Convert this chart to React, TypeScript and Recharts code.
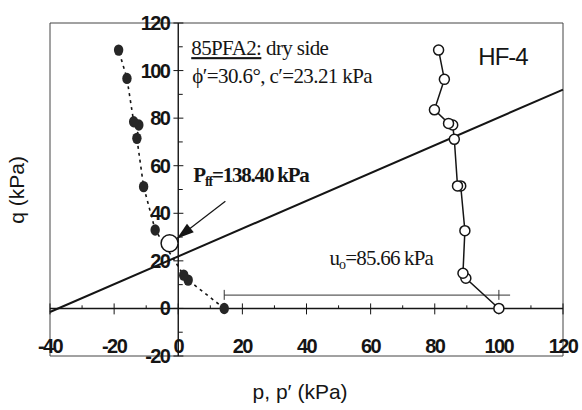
import React from 'react';
import { ScatterChart, Scatter, XAxis, YAxis, ReferenceLine, ReferenceDot } from 'recharts';

// effective stress path p' (filled dots, dotted line), read bottom to top
const effectivePath = [
  { p: 14.34, q: 0 },
  { p: 3.1, q: 11.9 },
  { p: 1.7, q: 14.0 },
  { p: -7.2, q: 33.0 },
  { p: -10.8, q: 51.2 },
  { p: -12.9, q: 71.5 },
  { p: -12.3, q: 77.1 },
  { p: -13.9, q: 78.5 },
  { p: -16.0, q: 96.7 },
  { p: -18.6, q: 108.6 },
];

// total stress path p (open circles, solid line)
const totalPath = [
  { p: 100.0, q: 0 },
  { p: 89.7, q: 12.7 },
  { p: 88.8, q: 14.8 },
  { p: 89.4, q: 32.7 },
  { p: 88.1, q: 51.5 },
  { p: 87.1, q: 51.5 },
  { p: 86.1, q: 71.1 },
  { p: 85.6, q: 77.1 },
  { p: 84.3, q: 77.8 },
  { p: 79.9, q: 83.5 },
  { p: 83.0, q: 96.3 },
  { p: 81.2, q: 108.6 },
];

const failureLine = [
  { p: -40, q: -1.5 },
  { p: 120, q: 92 },
];

const pffPoint = [{ p: -2.7, q: 27.4 }];
const arrowPath = [
  { p: 14.7, q: 45.1, tip: false },
  { p: -0.4, q: 29.4, tip: true },
];

const u0Level = 5.6;
const u0Start = 14.34;
const u0End = 103.5;
const u0Marks = [14.34, 100];

const xMajor = [-40, -20, 0, 20, 40, 60, 80, 100, 120];
const xMinor = [-30, -10, 10, 30, 50, 70, 90, 110];
const yMajor = [-20, 0, 20, 40, 60, 80, 100, 120];
const yMinor = [-10, 10, 30, 50, 70, 90, 110];

const INK = '#151515';
const tickFont = { fontFamily: '"Liberation Sans", Arial, sans-serif', fontWeight: 700, fontSize: 20, letterSpacing: -1.6, fill: INK };
const serif = '"Liberation Serif", "Times New Roman", serif';
const sans = '"Liberation Sans", Arial, sans-serif';
const ARROW_ANGLE = (142 * Math.PI) / 180;

const FilledDot = (props: any) => (
  <ellipse cx={props.cx} cy={props.cy} rx={4.7} ry={5.7} fill="#262626" />
);

const OpenDot = (props: any) => (
  <circle cx={props.cx} cy={props.cy} r={5} fill="#fff" stroke={INK} strokeWidth={1.5} />
);

const BigOpen = (props: any) => (
  <circle cx={props.cx} cy={props.cy} r={8.5} fill="#fff" stroke={INK} strokeWidth={1.5} />
);

const NoDot = () => <g />;

const ArrowTip = (props: any) => {
  if (!props.payload || !props.payload.tip) return <g />;
  const { cx, cy } = props;
  const L = 17;
  const W = 5.5;
  const c = Math.cos(ARROW_ANGLE);
  const s = Math.sin(ARROW_ANGLE);
  const bx = cx - L * c;
  const by = cy - L * s;
  const pts = `${cx},${cy} ${bx - W * s},${by + W * c} ${bx + W * s},${by - W * c}`;
  return <polygon points={pts} fill={INK} />;
};

const textShape = (content: React.ReactNode, dx: number, dy: number, anchor: string, style: any) => (props: any) => (
  <text x={props.cx + dx} y={props.cy + dy} textAnchor={anchor} {...style}>
    {content}
  </text>
);

export default function App() {
  return (
    <div style={{ position: 'absolute', left: 0, top: 0, width: 582, height: 410, background: '#fff' }}>
      <ScatterChart width={582} height={410} margin={{ top: 23, right: 19, bottom: 54, left: 50 }}>
        <XAxis type="number" dataKey="p" domain={[-40, 120]} ticks={xMajor} hide />
        <YAxis type="number" dataKey="q" domain={[-20, 120]} ticks={yMajor} hide />

        {/* frame */}
        <ReferenceLine x={-40} stroke="#444" strokeWidth={1} />
        <ReferenceLine x={120} stroke="#444" strokeWidth={1} />
        <ReferenceLine y={-20} stroke="#444" strokeWidth={1} />
        <ReferenceLine y={120} stroke="#444" strokeWidth={1} />

        {/* axes through the origin */}
        <ReferenceLine y={0} stroke={INK} strokeWidth={1.4} />
        <ReferenceLine x={0} stroke={INK} strokeWidth={1.4} />
        {xMajor.map((v) => (
          <ReferenceLine key={'xM' + v} segment={[{ x: v, y: -2.5 }, { x: v, y: 2.1 }]} stroke={INK} strokeWidth={1} />
        ))}
        {xMinor.map((v) => (
          <ReferenceLine key={'xm' + v} segment={[{ x: v, y: 0 }, { x: v, y: 1.3 }]} stroke={INK} strokeWidth={1} />
        ))}
        {yMajor.map((v) => (
          <ReferenceLine key={'yM' + v} segment={[{ x: -1.5, y: v }, { x: 1.6, y: v }]} stroke={INK} strokeWidth={1} />
        ))}
        {yMinor.map((v) => (
          <ReferenceLine key={'ym' + v} segment={[{ x: 0, y: v }, { x: 1.4, y: v }]} stroke={INK} strokeWidth={1} />
        ))}

        {/* tick labels */}
        {xMajor.map((v) => (
          <ReferenceDot key={'xl' + v} x={v} y={-20} r={0} shape={textShape(v, 0, -3, 'middle', tickFont)} />
        ))}
        {yMajor.map((v) => (
          <ReferenceDot key={'yl' + v} x={0} y={v} r={0} shape={textShape(v, -9, 7, 'end', tickFont)} />
        ))}

        {/* u0 reference */}
        <ReferenceLine segment={[{ x: u0Start, y: u0Level }, { x: u0End, y: u0Level }]} stroke="#333" strokeWidth={1} />
        {u0Marks.map((v) => (
          <ReferenceLine key={'u' + v} segment={[{ x: v, y: u0Level - 2 }, { x: v, y: u0Level + 2.2 }]} stroke="#333" strokeWidth={1} />
        ))}

        <Scatter data={failureLine} shape={NoDot} line={{ stroke: INK, strokeWidth: 2 }} isAnimationActive={false} />
        <Scatter data={effectivePath} shape={FilledDot} line={{ stroke: INK, strokeWidth: 1.6, strokeDasharray: '3 4' }} isAnimationActive={false} />
        <Scatter data={totalPath} shape={OpenDot} line={{ stroke: INK, strokeWidth: 1.5 }} isAnimationActive={false} />
        <Scatter data={arrowPath} shape={ArrowTip} line={{ stroke: INK, strokeWidth: 1.2 }} isAnimationActive={false} />
        <Scatter data={pffPoint} shape={BigOpen} isAnimationActive={false} />

        {/* annotations */}
        <ReferenceDot
          x={4.05}
          y={106.5}
          r={0}
          shape={textShape(
            <>
              <tspan textDecoration="underline">85PFA2:</tspan> dry side
            </>,
            0, 0, 'start', { fontFamily: serif, fontSize: 21, fill: INK, letterSpacing: -0.6 }
          )}
        />
        <ReferenceDot
          x={4.4}
          y={94.8}
          r={0}
          shape={textShape('ϕ\u2032=30.6°, c\u2032=23.21 kPa', 0, 0, 'start', { fontFamily: serif, fontSize: 21, fill: INK, letterSpacing: -0.6 })}
        />
        <ReferenceDot
          x={93.6}
          y={102.2}
          r={0}
          shape={textShape('HF-4', 0, 0, 'start', { fontFamily: sans, fontSize: 24, fill: INK, letterSpacing: -1 })}
        />
        <ReferenceDot
          x={4.7}
          y={53.1}
          r={0}
          shape={textShape(
            <>
              P<tspan fontSize={14} dy={4}>ff</tspan>
              <tspan dy={-4}>=138.40 kPa</tspan>
            </>,
            0, 0, 'start', { fontFamily: serif, fontSize: 21, fontWeight: 700, fill: INK, letterSpacing: -1.2 }
          )}
        />
        <ReferenceDot
          x={79.5}
          y={18.2}
          r={0}
          shape={textShape(
            <>
              u<tspan fontSize={14} dy={4}>o</tspan>
              <tspan dy={-4}>=85.66 kPa</tspan>
            </>,
            0, 0, 'end', { fontFamily: serif, fontSize: 21, fill: INK, letterSpacing: -0.8 }
          )}
        />

        {/* axis titles */}
        <ReferenceDot
          x={38}
          y={-38}
          r={0}
          ifOverflow="visible"
          shape={textShape('p, p\u2032  (kPa)', 0, 0, 'middle', { fontFamily: sans, fontSize: 21, fill: INK })}
        />
        <ReferenceDot
          x={-48}
          y={49.8}
          r={0}
          ifOverflow="visible"
          shape={(props: any) => (
            <text
              x={props.cx}
              y={props.cy}
              textAnchor="middle"
              transform={`rotate(-90 ${props.cx} ${props.cy})`}
              fontFamily={sans}
              fontSize={21}
              fill={INK}
            >
              q  (kPa)
            </text>
          )}
        />
      </ScatterChart>
    </div>
  );
}
